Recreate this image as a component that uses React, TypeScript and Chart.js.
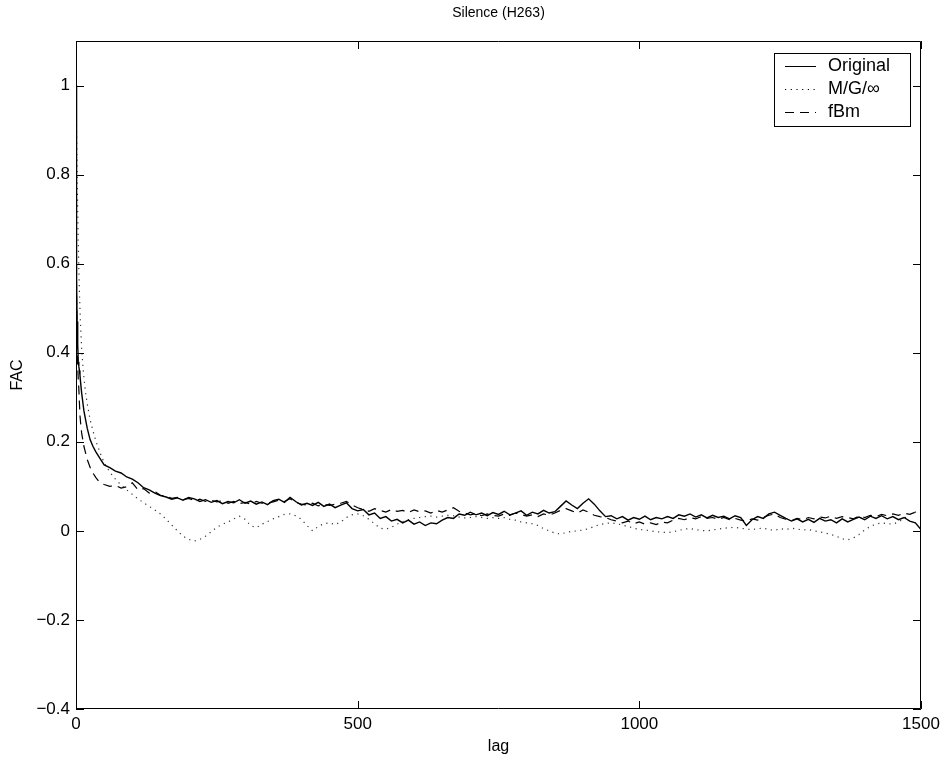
import React, { useEffect, useRef } from 'react';
import { Chart, registerables } from 'chart.js';

Chart.register(...registerables);

const TITLE = 'Silence (H263)';
const X_LABEL = 'lag';
const Y_LABEL = 'FAC';
const SERIES_LABELS = ['Original', 'M/G/\u221e', 'fBm'];
const X_TICKS = [0, 500, 1000, 1500];
const Y_TICKS = [-0.4, -0.2, 0, 0.2, 0.4, 0.6, 0.8, 1];

const LAGS = [
  0, 1, 2, 3, 4, 5, 6, 7, 8, 10, 12, 14, 17, 20, 25, 30, 35, 40, 45,
  50, 60, 70, 80, 90, 100, 110, 120, 130, 140,
  150, 160, 170, 180, 190, 200, 210, 220, 230, 240,
  250, 260, 270, 280, 290, 300, 310, 320, 330, 340,
  350, 360, 370, 380, 390, 400, 410, 420, 430, 440,
  450, 460, 470, 480, 490, 500, 510, 520, 530, 540,
  550, 560, 570, 580, 590, 600, 610, 620, 630, 640,
  650, 660, 670, 680, 690, 700, 710, 720, 730, 740,
  750, 760, 770, 780, 790, 800, 810, 820, 830, 840,
  850, 860, 870, 880, 890, 900, 910, 920, 930, 940,
  950, 960, 970, 980, 990, 1000, 1010, 1020, 1030, 1040,
  1050, 1060, 1070, 1080, 1090, 1100, 1110, 1120, 1130, 1140,
  1150, 1160, 1170, 1180, 1190, 1200, 1210, 1220, 1230, 1240,
  1250, 1260, 1270, 1280, 1290, 1300, 1310, 1320, 1330, 1340,
  1350, 1360, 1370, 1380, 1390, 1400, 1410, 1420, 1430, 1440,
  1450, 1460, 1470, 1480, 1490, 1500,
];

const ORIGINAL = [
  1.0, 0.56, 0.47, 0.42, 0.38, 0.37, 0.36, 0.35, 0.335, 0.31, 0.29, 0.27, 0.25, 0.23, 0.205, 0.19, 0.178, 0.168, 0.158,
  0.148, 0.142, 0.134, 0.13, 0.121, 0.116, 0.108, 0.097, 0.092, 0.085,
  0.079, 0.076, 0.071, 0.074, 0.069, 0.075, 0.072, 0.066, 0.07, 0.064,
  0.068, 0.061, 0.066, 0.063, 0.07, 0.062, 0.067, 0.06, 0.065, 0.059,
  0.068, 0.071, 0.064, 0.075, 0.066, 0.058, 0.062, 0.057, 0.064, 0.055,
  0.06, 0.052, 0.058, 0.063, 0.05, 0.045, 0.048, 0.036, 0.04, 0.028,
  0.032, 0.022, 0.026, 0.018, 0.024, 0.015, 0.02, 0.012, 0.018, 0.016,
  0.024, 0.03, 0.028, 0.038, 0.035, 0.042, 0.036, 0.04, 0.034, 0.041,
  0.037, 0.044, 0.036, 0.04, 0.045, 0.035, 0.042, 0.038, 0.046, 0.04,
  0.043, 0.055, 0.067, 0.058, 0.05, 0.062, 0.072, 0.06, 0.045, 0.032,
  0.034, 0.027, 0.032, 0.024, 0.03, 0.026, 0.033, 0.025, 0.03, 0.027,
  0.032, 0.028, 0.036, 0.033, 0.038, 0.031, 0.036, 0.029, 0.035, 0.03,
  0.033, 0.027, 0.034, 0.03, 0.012, 0.025, 0.032, 0.028, 0.038, 0.042,
  0.035, 0.028, 0.022, 0.027, 0.02, 0.026, 0.019, 0.028, 0.022, 0.025,
  0.018, 0.027, 0.02, 0.026, 0.031, 0.025, 0.033, 0.028, 0.034, 0.027,
  0.032, 0.025, 0.03, 0.022, 0.018, 0.003,
];

const MG_INF = [
  1.0, 0.9, 0.8, 0.72, 0.65, 0.59, 0.54, 0.5, 0.465, 0.41, 0.375, 0.345, 0.31, 0.285, 0.25, 0.225, 0.203, 0.185, 0.168,
  0.153, 0.132, 0.116, 0.103, 0.092, 0.082, 0.072, 0.063, 0.055, 0.047,
  0.038, 0.026, 0.013, 0.0, -0.012, -0.019, -0.023, -0.019, -0.012, -0.002,
  0.008, 0.015, 0.02, 0.027, 0.033, 0.026, 0.012, 0.007, 0.015, 0.021,
  0.027, 0.032, 0.037, 0.038, 0.034, 0.026, 0.012, 0.0, 0.01, 0.016,
  0.018, 0.014, 0.02, 0.03, 0.036, 0.038, 0.034, 0.026, 0.016, 0.006,
  0.004, 0.008, 0.015, 0.021, 0.025, 0.028, 0.03, 0.032, 0.033, 0.031,
  0.033, 0.035, 0.034, 0.031, 0.029, 0.03, 0.032, 0.03, 0.028, 0.03,
  0.028, 0.03, 0.026, 0.024, 0.02, 0.018, 0.016, 0.012, 0.005, 0.0,
  -0.005, -0.007, -0.004, -0.001, 0.0, 0.002, 0.005, 0.01, 0.014, 0.017,
  0.018, 0.016, 0.013, 0.01, 0.006, 0.003, 0.002, 0.0, -0.002, -0.003,
  -0.004, -0.002, 0.001, 0.004, 0.005, 0.003, 0.001, 0.0, 0.002, 0.004,
  0.006, 0.007, 0.008, 0.006, 0.004, 0.003, 0.005, 0.006, 0.003, 0.001,
  0.005, 0.003, 0.006, 0.004, 0.002, 0.003, 0.0, -0.002, -0.005, -0.008,
  -0.012, -0.018, -0.02, -0.016, -0.008, 0.002, 0.01, 0.015, 0.018, 0.016,
  0.015, 0.02, 0.028, 0.036, 0.042, 0.048,
];

const FBM = [
  1.0, 0.52, 0.42, 0.37, 0.34, 0.32, 0.29, 0.26, 0.245, 0.22, 0.205, 0.19, 0.175, 0.16, 0.143, 0.13, 0.12, 0.112, 0.107,
  0.104, 0.1, 0.102, 0.096, 0.099, 0.108, 0.092, 0.095, 0.085, 0.088,
  0.08, 0.078, 0.073, 0.075, 0.07, 0.073, 0.068, 0.071, 0.066, 0.069,
  0.065, 0.068, 0.062, 0.066, 0.061, 0.064, 0.06, 0.066, 0.062, 0.063,
  0.065, 0.069, 0.066, 0.072, 0.064, 0.06, 0.058, 0.062, 0.056, 0.06,
  0.057, 0.06, 0.062, 0.066, 0.058, 0.052, 0.048, 0.044, 0.05, 0.046,
  0.042, 0.048, 0.044, 0.046, 0.041, 0.047, 0.043, 0.045, 0.04, 0.046,
  0.042, 0.047, 0.052, 0.044, 0.04, 0.036, 0.039, 0.034, 0.038, 0.035,
  0.033, 0.038, 0.035, 0.04, 0.037, 0.033, 0.036, 0.032, 0.038, 0.035,
  0.04, 0.046, 0.05, 0.045, 0.04, 0.047, 0.042, 0.035, 0.032, 0.03,
  0.025, 0.022, 0.018, 0.022, 0.016, 0.02, 0.015, 0.018, 0.014, 0.02,
  0.018, 0.024, 0.028, 0.025, 0.03, 0.027, 0.032, 0.028, 0.03, 0.026,
  0.03, 0.025, 0.028, 0.024, 0.022, 0.027, 0.024, 0.03, 0.035, 0.038,
  0.03, 0.026, 0.023, 0.028, 0.025, 0.03, 0.027, 0.031, 0.029, 0.033,
  0.028, 0.032, 0.03, 0.027, 0.033, 0.03, 0.035, 0.032, 0.037, 0.034,
  0.038, 0.035, 0.04, 0.037, 0.042, 0.04,
];

const FONT = '"Liberation Sans", Arial, Helvetica, sans-serif';
const TICK_FS = 17;
const LEGEND_FS = 18;
const TITLE_FS = 14;
const LABEL_FS = 16;

const toPoints = (vals: number[]) => LAGS.map((x, i) => ({ x, y: vals[i] }));
const fmt = (v: number) => (v < 0 ? '\u2212' + String(Math.abs(v)) : String(v));

const matlabFrame = {
  id: 'matlabFrame',
  afterDraw(chart: any) {
    const { ctx, chartArea: a, scales } = chart;
    const xs = scales.x;
    const ys = scales.y;
    const T = 8;
    ctx.save();
    ctx.strokeStyle = '#000';
    ctx.lineWidth = 1;
    ctx.beginPath();
    ctx.rect(Math.round(a.left) + 0.5, Math.round(a.top) + 0.5, Math.round(a.right - a.left) - 1, Math.round(a.bottom - a.top) - 1);
    ctx.stroke();
    ctx.beginPath();
    X_TICKS.forEach((v) => {
      const px = Math.round(xs.getPixelForValue(v)) + 0.5;
      ctx.moveTo(px, a.bottom);
      ctx.lineTo(px, a.bottom - T);
      ctx.moveTo(px, a.top);
      ctx.lineTo(px, a.top + T);
    });
    Y_TICKS.forEach((v) => {
      const py = Math.round(ys.getPixelForValue(v)) + 0.5;
      ctx.moveTo(a.left, py);
      ctx.lineTo(a.left + T, py);
      ctx.moveTo(a.right, py);
      ctx.lineTo(a.right - T, py);
    });
    ctx.stroke();

    // legend box
    ctx.font = `${LEGEND_FS}px ${FONT}`;
    const widths = SERIES_LABELS.map((t) => ctx.measureText(t).width);
    const maxW = Math.max(...widths);
    const boxW = Math.round(54 + maxW + 20);
    const boxH = 73;
    const right = Math.round(a.right) - 11;
    const left = right - boxW;
    const top = Math.round(a.top) + 12;
    ctx.fillStyle = '#fff';
    ctx.fillRect(left, top, boxW, boxH);
    ctx.strokeRect(left + 0.5, top + 0.5, boxW, boxH);
    chart.data.datasets.forEach((ds: any, i: number) => {
      const y = Math.round(top + 12.5 + i * 23) + 0.5;
      ctx.save();
      ctx.lineWidth = 1;
      ctx.setLineDash(ds.borderDash || []);
      ctx.beginPath();
      ctx.moveTo(left + 11, y);
      ctx.lineTo(left + 42, y);
      ctx.stroke();
      ctx.restore();
      ctx.fillStyle = '#000';
      ctx.textBaseline = 'middle';
      ctx.textAlign = 'left';
      ctx.fillText(ds.label, left + 54, y);
    });
    ctx.restore();
  },
};

export default function App() {
  const ref = useRef<HTMLCanvasElement | null>(null);
  useEffect(() => {
    if (!ref.current) return;
    const chart = new Chart(ref.current, {
      type: 'line',
      data: {
        datasets: [
          {
            label: SERIES_LABELS[0],
            data: toPoints(ORIGINAL),
            borderColor: '#000',
            borderWidth: 1.4,
            pointRadius: 0,
            tension: 0,
            fill: false,
          },
          {
            label: SERIES_LABELS[1],
            data: toPoints(MG_INF),
            borderColor: '#333',
            borderWidth: 1.2,
            borderDash: [1.2, 4.5],
            pointRadius: 0,
            tension: 0,
            fill: false,
          },
          {
            label: SERIES_LABELS[2],
            data: toPoints(FBM),
            borderColor: '#000',
            borderWidth: 1.2,
            borderDash: [9, 6],
            pointRadius: 0,
            tension: 0,
            fill: false,
          },
        ],
      },
      options: {
        animation: false,
        responsive: false,
        devicePixelRatio: 1,
        layout: { padding: { left: 0, right: 25, top: 0, bottom: 0 } },
        plugins: {
          legend: { display: false },
          tooltip: { enabled: false },
          title: {
            display: true,
            text: TITLE,
            fullSize: false,
            color: '#000',
            font: { family: FONT, size: TITLE_FS, weight: 'normal', lineHeight: 1.2 },
            padding: { top: 4.6, bottom: 19.6 },
          },
        },
        scales: {
          x: {
            type: 'linear',
            min: 0,
            max: 1500,
            afterBuildTicks: (s: any) => {
              s.ticks = X_TICKS.map((v) => ({ value: v }));
            },
            afterFit: (s: any) => {
              s.height = 51;
            },
            grid: { display: false, drawTicks: false },
            border: { display: false },
            ticks: {
              color: '#000',
              padding: 5,
              maxRotation: 0,
              font: { family: FONT, size: TICK_FS },
              callback: (v: any) => fmt(Number(v)),
            },
            title: {
              display: true,
              text: X_LABEL,
              color: '#000',
              font: { family: FONT, size: LABEL_FS },
              padding: { top: 0, bottom: 4 },
            },
          },
          y: {
            type: 'linear',
            min: -0.4,
            max: 1.1,
            afterBuildTicks: (s: any) => {
              s.ticks = Y_TICKS.map((v) => ({ value: v }));
            },
            afterFit: (s: any) => {
              s.width = 76;
            },
            grid: { display: false, drawTicks: false },
            border: { display: false },
            ticks: {
              color: '#000',
              padding: 6,
              font: { family: FONT, size: TICK_FS },
              callback: (v: any) => fmt(Number(v)),
            },
            title: {
              display: true,
              text: Y_LABEL,
              color: '#000',
              font: { family: FONT, size: LABEL_FS },
              padding: { top: 8, bottom: 0 },
            },
          },
        },
      },
      plugins: [matlabFrame],
    } as any);
    return () => chart.destroy();
  }, []);
  return (
    <div style={{ position: 'absolute', left: 0, top: 0, width: 946, height: 760, background: '#fff' }}>
      <canvas ref={ref} width={946} height={760} style={{ width: 946, height: 760, display: 'block' }} />
    </div>
  );
}
